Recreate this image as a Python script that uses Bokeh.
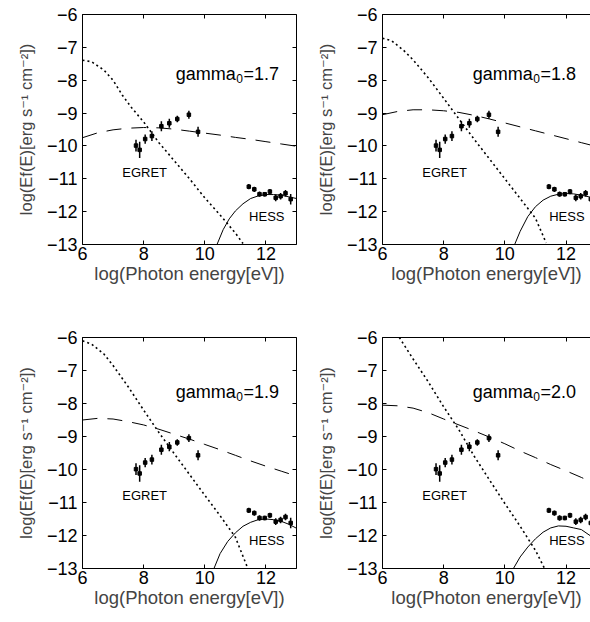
from bokeh.plotting import figure
from bokeh.layouts import gridplot
from bokeh.models import LinearAxis, FixedTicker, Range1d, Label
from bokeh.embed import file_html
from bokeh.resources import INLINE

# ---------------- data ----------------
x_ticks = [6, 8, 10, 12]
x_tick_labels = ["6", "8", "10", "12"]
y_ticks = [-13, -12, -11, -10, -9, -8, -7, -6]
y_tick_labels = ["−13", "−12", "−11", "−10", "−9", "−8", "−7", "−6"]

x_label = "log(Photon energy[eV])"
y_label = "log(Ef(E)[erg s⁻¹ cm⁻²])"

gamma_values = ["1.7", "1.8", "1.9", "2.0"]

egret_x = [7.75, 7.87, 8.05, 8.27, 8.58, 8.84, 9.10, 9.48, 9.78]
egret_y = [-9.99, -10.12, -9.79, -9.70, -9.40, -9.31, -9.18, -9.05, -9.57]
egret_err = [0.18, 0.25, 0.14, 0.15, 0.15, 0.14, 0.10, 0.12, 0.15]

hess_x = [11.44, 11.62, 11.79, 11.96, 12.13, 12.32, 12.48, 12.64, 12.81]
hess_y = [-11.24, -11.32, -11.47, -11.47, -11.39, -11.58, -11.53, -11.44, -11.62]
hess_err = [0.08, 0.08, 0.08, 0.07, 0.08, 0.10, 0.10, 0.10, 0.16]

# gamma0 = 1.7
dot17_x = [6.0, 6.3, 6.7, 7.0, 7.3, 7.6, 8.0, 8.5, 9.0, 9.5, 10.0, 10.5, 11.0, 11.25]
dot17_y = [-7.39, -7.44, -7.69, -8.0, -8.45, -8.83, -9.27, -9.9, -10.45, -11.0, -11.58, -12.1, -12.65, -12.97]
dash17_x = [6, 6.5, 7, 7.5, 8, 8.5, 9, 9.5, 10, 10.5, 11, 11.5, 12, 12.5, 13]
dash17_y = [-9.75, -9.6, -9.51, -9.46, -9.44, -9.45, -9.49, -9.55, -9.61, -9.67, -9.74, -9.8, -9.87, -9.94, -10.01]
sol17_x = [10.4, 10.6, 10.8, 11.0, 11.25, 11.5, 11.75, 12.0, 12.25, 12.5, 12.75, 13.0]
sol17_y = [-13.0, -12.55, -12.22, -11.98, -11.76, -11.6, -11.52, -11.48, -11.48, -11.5, -11.55, -11.6]

# gamma0 = 1.8
dot18_x = [6.0, 6.3, 6.7, 7.0, 7.5, 8.0, 8.5, 9.0, 9.5, 10.0, 10.5, 11.0, 11.35]
dot18_y = [-6.72, -6.8, -7.1, -7.38, -7.93, -8.55, -9.18, -9.8, -10.4, -11.0, -11.6, -12.2, -12.95]
dash18_x = [6, 6.5, 7, 7.5, 8, 8.5, 9, 9.5, 10, 10.5, 11, 11.5, 12, 12.5, 13]
dash18_y = [-9.05, -8.95, -8.9, -8.9, -8.93, -8.98, -9.07, -9.18, -9.3, -9.42, -9.54, -9.66, -9.78, -9.9, -10.02]
sol18_x = [10.32, 10.5, 10.75, 11.0, 11.25, 11.5, 11.75, 12.0, 12.25, 12.5, 12.75, 13.0]
sol18_y = [-13.0, -12.6, -12.15, -11.85, -11.65, -11.53, -11.47, -11.45, -11.46, -11.5, -11.55, -11.62]

# gamma0 = 1.9
dot19_x = [6.0, 6.3, 6.7, 7.0, 7.5, 8.0, 8.5, 9.0, 9.5, 10.0, 10.5, 11.0, 11.4]
dot19_y = [-6.1, -6.2, -6.5, -6.85, -7.5, -8.2, -8.88, -9.52, -10.15, -10.78, -11.4, -12.05, -12.98]
dash19_x = [6, 6.5, 7, 7.5, 8, 8.5, 9, 9.5, 10, 10.5, 11, 11.5, 12, 12.5, 13]
dash19_y = [-8.5, -8.45, -8.47, -8.55, -8.65, -8.78, -8.93, -9.08, -9.24, -9.4, -9.57, -9.74, -9.9, -10.05, -10.2]
sol19_x = [10.3, 10.5, 10.75, 11.0, 11.25, 11.5, 11.75, 12.0, 12.25, 12.5, 12.75, 13.0]
sol19_y = [-13.0, -12.55, -12.18, -11.92, -11.72, -11.6, -11.52, -11.5, -11.52, -11.57, -11.66, -11.78]

# gamma0 = 2.0
dot20_x = [6.55, 7.0, 7.5, 8.0, 8.5, 9.0, 9.5, 10.0, 10.5, 11.0, 11.3]
dot20_y = [-6.0, -6.65, -7.35, -8.1, -8.8, -9.6, -10.32, -11.03, -11.72, -12.45, -13.0]
dash20_x = [6, 6.5, 7, 7.5, 8, 8.5, 9, 9.5, 10, 10.5, 11, 11.5, 12, 12.5, 13]
dash20_y = [-8.05, -8.07, -8.14, -8.28, -8.47, -8.65, -8.83, -9.02, -9.22, -9.44, -9.64, -9.85, -10.04, -10.24, -10.45]
sol20_x = [10.28, 10.5, 10.75, 11.0, 11.25, 11.5, 11.75, 12.0, 12.25, 12.5, 12.75, 13.0]
sol20_y = [-13.0, -12.65, -12.35, -12.1, -11.9, -11.77, -11.71, -11.72, -11.77, -11.82, -11.98, -12.13]

FONT = "Liberation Sans"
FONT_FALLBACK = "Liberation Sans, DejaVu Sans"
FS = 18          # main font size (px)
FS_YLABEL = 16.5
FS_XLABEL = 18.5
FS_SMALL = 12    # subscript size
FS_TAG = 13      # EGRET / HESS

# Liberation Sans advance widths (per 1000 em) for the gamma label pieces
ADV = {"g": 556, "a": 556, "m": 833, "0": 556}


def text_width(t, size):
    return sum(ADV.get(ch, 556) for ch in t) / 1000.0 * size


def style_axis(ax, ticks, labels, show_labels):
    ax.ticker = FixedTicker(ticks=ticks)
    if show_labels:
        ax.major_label_overrides = {t: l for t, l in zip(ticks, labels)}
    else:
        ax.major_label_overrides = {t: "" for t in ticks}
        ax.major_label_standoff = 0
    ax.major_tick_in = 4
    ax.major_tick_out = 0
    ax.minor_tick_line_color = None
    ax.axis_line_color = "black"
    ax.major_tick_line_color = "black"
    ax.major_label_text_font = FONT
    ax.major_label_text_font_size = f"{FS}px"
    ax.major_label_text_color = "black"


def make_panel(gamma, dx, dy, ddx, ddy, sx, sy, left_col, top_row):
    width = 300 if left_col else 290
    height = 290 if top_row else 324
    x_end = 13 if left_col else 12.8   # right column is cut at the window edge
    p = figure(width=width, height=height, output_backend="svg", toolbar_location=None,
               x_range=Range1d(6, x_end), y_range=Range1d(-13, -6),
               min_border_left=82, min_border_right=4 if left_col else 0,
               min_border_top=14 if top_row else 47, min_border_bottom=46,
               x_axis_location=None, y_axis_location=None)
    p.background_fill_color = "white"
    p.border_fill_color = "white"
    p.outline_line_color = None
    p.xgrid.visible = False
    p.ygrid.visible = False

    xb = LinearAxis(axis_label=x_label)
    style_axis(xb, x_ticks, x_tick_labels, True)
    xb.major_label_standoff = 2
    xb.axis_label_standoff = 0
    xb.axis_label_text_font = FONT
    xb.axis_label_text_font_size = f"{FS_XLABEL}px"
    xb.axis_label_text_font_style = "normal"
    p.add_layout(xb, "below")

    yl = LinearAxis(axis_label=y_label)
    style_axis(yl, y_ticks, y_tick_labels, True)
    yl.major_label_standoff = 5
    yl.axis_label_standoff = 9
    yl.axis_label_text_font = FONT_FALLBACK
    yl.axis_label_text_font_size = f"{FS_YLABEL}px"
    yl.axis_label_text_font_style = "normal"
    p.add_layout(yl, "left")

    xt = LinearAxis()
    style_axis(xt, x_ticks, x_tick_labels, False)
    p.add_layout(xt, "above")

    if left_col:
        yr = LinearAxis()
        style_axis(yr, y_ticks, y_tick_labels, False)
        p.add_layout(yr, "right")

    # model curves
    p.line(dx, dy, line_color="black", line_width=1.6, line_dash="2 3")
    p.line(ddx, ddy, line_color="black", line_width=1, line_dash="15 10")
    p.line(sx, sy, line_color="black", line_width=1)

    # data with error bars
    p.segment(x0=egret_x, x1=egret_x,
              y0=[y - e for y, e in zip(egret_y, egret_err)],
              y1=[y + e for y, e in zip(egret_y, egret_err)],
              line_color="black", line_width=1.5)
    p.scatter(egret_x, egret_y, marker="square", size=3.5, color="black")
    p.segment(x0=hess_x, x1=hess_x,
              y0=[y - e for y, e in zip(hess_y, hess_err)],
              y1=[y + e for y, e in zip(hess_y, hess_err)],
              line_color="black", line_width=1.5)
    p.scatter(hess_x, hess_y, marker="square", size=3.5, color="black")

    # gamma_0 = ... label (subscript drawn as a lowered small 0)
    gx = 9.05 if left_col else 8.95
    gy = -7.8 if top_row else -7.65
    w_gamma = text_width("gamma", FS)
    w_sub = text_width("0", FS_SMALL)
    p.add_layout(Label(x=gx, y=gy, text="gamma", text_font=FONT, text_font_size=f"{FS}px",
                       text_color="black", text_baseline="alphabetic"))
    p.add_layout(Label(x=gx, y=gy, x_offset=w_gamma + 0.5, y_offset=-5, text="0",
                       text_font=FONT, text_font_size=f"{FS_SMALL}px",
                       text_color="black", text_baseline="alphabetic"))
    p.add_layout(Label(x=gx, y=gy, x_offset=w_gamma + w_sub + 1, text="=" + gamma,
                       text_font=FONT, text_font_size=f"{FS}px",
                       text_color="black", text_baseline="alphabetic"))

    p.add_layout(Label(x=7.3, y=-10.8, text="EGRET", text_font=FONT,
                       text_font_size=f"{FS_TAG}px", text_color="black", text_baseline="middle"))
    p.add_layout(Label(x=11.45, y=-12.15, text="HESS", text_font=FONT,
                       text_font_size=f"{FS_TAG}px", text_color="black", text_baseline="middle"))
    return p


p1 = make_panel(gamma_values[0], dot17_x, dot17_y, dash17_x, dash17_y, sol17_x, sol17_y, True, True)
p2 = make_panel(gamma_values[1], dot18_x, dot18_y, dash18_x, dash18_y, sol18_x, sol18_y, False, True)
p3 = make_panel(gamma_values[2], dot19_x, dot19_y, dash19_x, dash19_y, sol19_x, sol19_y, True, False)
p4 = make_panel(gamma_values[3], dot20_x, dot20_y, dash20_x, dash20_y, sol20_x, sol20_y, False, False)

grid = gridplot([[p1, p2], [p3, p4]], toolbar_location=None)

open("out.html", "w").write(file_html(grid, INLINE))
